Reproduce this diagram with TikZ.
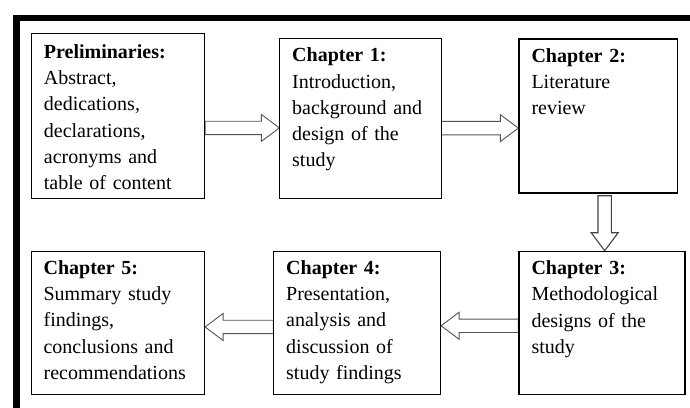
\documentclass[tikz,border=0pt]{standalone}
\usepackage{fontspec}
\setmainfont{Liberation Serif}[WordSpace=0.7]
\usepackage{tikz}
\usetikzlibrary{calc,backgrounds}

\definecolor{arrowgray}{RGB}{85,85,85}
\newcommand{\fatshaft}{6.7pt}
\newcommand{\fathead}{13.5pt}
\newcommand{\fatlen}{18pt}

\tikzset{
  chapbox/.style={draw, line width=0.8pt, anchor=north west, align=left,
    inner xsep=12.5pt, inner ysep=0pt, text height=23pt,
    font=\fontsize{20}{26.3}\selectfont},
  fatarrow/.style={draw=arrowgray, fill=white, line width=0.9pt, line join=miter,
    to path={
      ($(\tikztostart)!\fatshaft!90:(\tikztotarget)$)
      -- ($(\tikztotarget)!\fatlen!(\tikztostart)!\fatshaft!-90:(\tikztostart)$)
      -- ($(\tikztotarget)!\fatlen!(\tikztostart)!\fathead!-90:(\tikztostart)$)
      -- (\tikztotarget)
      -- ($(\tikztotarget)!\fatlen!(\tikztostart)!\fathead!90:(\tikztostart)$)
      -- ($(\tikztotarget)!\fatlen!(\tikztostart)!\fatshaft!90:(\tikztostart)$)
      -- ($(\tikztostart)!\fatshaft!-90:(\tikztotarget)$)
      -- cycle}},
}

\begin{document}
\begin{tikzpicture}[x=1pt,y=-1pt,line join=miter]
  \useasboundingbox (0,0) rectangle (690,407);
  % outer frame
  \draw[line width=6.5pt] (16.7,410) -- (16.7,18) -- (693,18);

  % chapter boxes
  \node[chapbox, text width=148.3pt, text height=24.4pt, text depth=140.6pt] (pre) at (31,33.3)
    {\textbf{Preliminaries:}\\Abstract,\\dedications,\\declarations,\\acronyms and\\table of content};
  \node[chapbox, text width=136.4pt, text depth=137pt] (ch1) at (279.3,38.3)
    {\textbf{Chapter 1:}\\Introduction,\\background and\\design of the\\study};
  \node[chapbox, line width=1.4pt, text width=133.4pt, text depth=131pt] (ch2) at (518.3,38.3)
    {\textbf{Chapter 2:}\\Literature\\review};
  \node[chapbox, line width=1.4pt, text width=141pt, text depth=120.3pt] (ch3) at (518.3,250.7)
    {\textbf{Chapter 3:}\\Methodological\\designs of the\\study};
  \node[chapbox, text width=142pt, text depth=120.3pt] (ch4) at (273.3,250.7)
    {\textbf{Chapter 4:}\\Presentation,\\analysis and\\discussion of\\study findings};
  \node[chapbox, text width=148.6pt, text depth=120.3pt] (ch5) at (30.7,250.7)
    {\textbf{Chapter 5:}\\Summary study\\findings,\\conclusions and\\recommendations};

  % arrow end points
  \coordinate (a1) at ([yshift=-11.7pt]pre.east);
  \coordinate (a2) at ([yshift=-9.4pt]ch1.east);
  \coordinate (a3) at ([xshift=6.5pt,yshift=-2pt]ch2.south);
  \coordinate (a4) at ([yshift=-2.7pt]ch3.west);
  \coordinate (a5) at ([yshift=-4.2pt]ch4.west);

  \begin{scope}[on background layer]
    \draw[fatarrow] (a1) to (a1 -| ch1.west);
    \draw[fatarrow] (a2) to (a2 -| ch2.west);
    \draw[fatarrow, line width=1.1pt, draw=arrowgray!80!black] (a3) to (a3 |- ch3.north);
    \draw[fatarrow] (a4) to (a4 -| ch4.east);
    \draw[fatarrow] (a5) to (a5 -| ch5.east);
  \end{scope}
\end{tikzpicture}
\end{document}
